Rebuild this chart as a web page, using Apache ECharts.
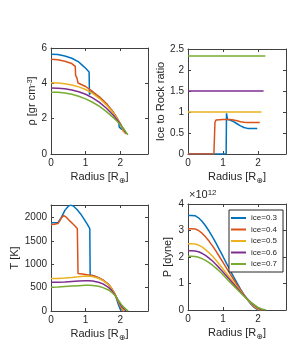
<!DOCTYPE html>
<html><head><meta charset="utf-8">
<script src="https://cdn.jsdelivr.net/npm/echarts@6/dist/echarts.min.js"></script>
<style>html,body{margin:0;padding:0;background:#fff}#c{width:299px;height:357px}</style>
</head><body><div id="c"></div><script>
const names = ['ice=0.3','ice=0.4','ice=0.5','ice=0.6','ice=0.7'];
const colors = ['#0072BD','#D95319','#EDB120','#7E2F8E','#77AC30'];

// Density [gr cm^-3] vs radius [R_earth]
const rho03 = [[0,5.65],[0.2,5.63],[0.4,5.55],[0.6,5.42],[0.8,5.21],[0.9,5.03],[1.0,4.85],[1.1,4.64],[1.11,3.35],[1.15,3.55],[1.2,3.50],[1.4,3.22],[1.6,2.84],[1.8,2.35],[1.9,2.05],[1.95,1.86],[1.97,1.52],[2.05,1.38]];
const rho04 = [[0,5.36],[0.2,5.33],[0.4,5.25],[0.6,5.12],[0.70,4.96],[0.71,4.45],[0.73,4.40],[0.74,4.50],[0.75,4.30],[0.78,4.02],[0.8,3.98],[1.0,3.82],[1.2,3.54],[1.4,3.22],[1.6,2.84],[1.8,2.36],[1.9,2.06],[2.0,1.72],[2.1,1.24]];
const rho05 = [[0,4.03],[0.2,4.02],[0.4,3.98],[0.6,3.91],[0.8,3.80],[1.0,3.65],[1.2,3.43],[1.4,3.14],[1.6,2.77],[1.8,2.32],[1.9,2.04],[2.0,1.72],[2.1,1.32],[2.14,1.15]];
const rho06 = [[0,3.73],[0.2,3.72],[0.4,3.69],[0.6,3.62],[0.8,3.52],[1.0,3.38],[1.2,3.18],[1.4,2.92],[1.6,2.59],[1.8,2.19],[1.9,1.95],[2.0,1.69],[2.1,1.40],[2.18,1.12]];
const rho07 = [[0,3.50],[0.2,3.49],[0.4,3.45],[0.6,3.38],[0.8,3.27],[1.0,3.12],[1.2,2.93],[1.4,2.69],[1.6,2.40],[1.8,2.06],[1.9,1.87],[2.0,1.66],[2.1,1.42],[2.22,1.08]];

// Ice to rock ratio
const irr03 = [[0,0],[1.09,0],[1.10,0.97],[1.13,0.82],[1.2,0.81],[1.3,0.77],[1.4,0.72],[1.5,0.67],[1.6,0.63],[1.7,0.61],[1.98,0.61]];
const irr04 = [[0,0],[0.74,0],[0.77,0.75],[0.80,0.81],[1.0,0.82],[1.2,0.82],[1.3,0.81],[1.4,0.79],[1.5,0.77],[1.6,0.755],[1.7,0.75],[2.05,0.75]];
const irr05 = [[0,1],[2.10,1]];
const irr06 = [[0,1.5],[2.16,1.5]];
const irr07 = [[0,2.333],[2.21,2.333]];

// Temperature [K]
const tmp03 = [[0,1885],[0.1,1885],[0.2,1890],[0.25,1900],[0.3,2000],[0.4,2150],[0.5,2240],[0.57,2262],[0.65,2240],[0.75,2170],[0.85,2080],[0.95,1970],[1.05,1850],[1.12,1760],[1.13,765],[1.2,760],[1.37,710],[1.5,660],[1.66,570],[1.75,480],[1.85,350],[1.95,130],[2.02,0]];
const tmp04 = [[0,1850],[0.1,1855],[0.2,1870],[0.25,1920],[0.3,1990],[0.37,2040],[0.45,2000],[0.55,1920],[0.65,1850],[0.76,1765],[0.78,800],[0.9,790],[1.0,780],[1.13,765],[1.2,760],[1.37,712],[1.5,662],[1.66,572],[1.75,485],[1.85,360],[1.95,180],[2.07,0]];
const tmp05 = [[0,693],[0.2,697],[0.4,705],[0.6,715],[0.8,730],[0.85,742],[1.0,748],[1.1,745],[1.2,735],[1.37,700],[1.5,650],[1.66,565],[1.75,480],[1.85,355],[1.95,200],[2.05,60],[2.11,0]];
const tmp06 = [[0,612],[0.2,615],[0.4,622],[0.6,632],[0.8,642],[1.0,648],[1.1,648],[1.2,640],[1.37,615],[1.5,580],[1.66,505],[1.75,440],[1.85,340],[1.95,210],[2.05,85],[2.17,0]];
const tmp07 = [[0,508],[0.2,512],[0.4,522],[0.6,532],[0.8,540],[1.0,548],[1.1,550],[1.2,546],[1.37,530],[1.5,500],[1.66,450],[1.75,400],[1.85,330],[1.95,225],[2.05,120],[2.15,45],[2.23,0]];

// Pressure [1e12 dyne]
const prs03 = [[0,3.57],[0.1,3.57],[0.2,3.56],[0.3,3.48],[0.4,3.35],[0.5,3.18],[0.6,2.98],[0.7,2.76],[0.8,2.52],[0.9,2.27],[1.0,2.02],[1.1,1.76],[1.2,1.51],[1.3,1.26],[1.4,1.02],[1.5,0.79],[1.6,0.58],[1.7,0.39],[1.8,0.22],[1.9,0.09],[2.0,0.01],[2.02,0]];
const prs04 = [[0,3.07],[0.1,3.07],[0.2,3.06],[0.3,3.00],[0.4,2.90],[0.5,2.76],[0.6,2.60],[0.7,2.42],[0.8,2.22],[0.9,2.01],[1.0,1.80],[1.1,1.58],[1.2,1.37],[1.3,1.16],[1.4,0.95],[1.5,0.76],[1.6,0.57],[1.7,0.40],[1.8,0.24],[1.9,0.11],[2.0,0.03],[2.08,0]];
const prs05 = [[0,2.50],[0.1,2.50],[0.2,2.49],[0.3,2.45],[0.4,2.38],[0.5,2.28],[0.6,2.16],[0.7,2.03],[0.8,1.88],[0.9,1.72],[1.0,1.55],[1.1,1.38],[1.2,1.21],[1.3,1.04],[1.4,0.87],[1.5,0.71],[1.6,0.55],[1.7,0.40],[1.8,0.26],[1.9,0.14],[2.0,0.05],[2.13,0]];
const prs06 = [[0,2.24],[0.1,2.24],[0.2,2.23],[0.3,2.20],[0.4,2.14],[0.5,2.06],[0.6,1.96],[0.7,1.85],[0.8,1.72],[0.9,1.58],[1.0,1.43],[1.1,1.28],[1.2,1.13],[1.3,0.98],[1.4,0.83],[1.5,0.68],[1.6,0.54],[1.7,0.41],[1.8,0.28],[1.9,0.17],[2.0,0.08],[2.1,0.02],[2.18,0]];
const prs07 = [[0,2.03],[0.1,2.03],[0.2,2.02],[0.3,1.99],[0.4,1.94],[0.5,1.87],[0.6,1.79],[0.7,1.69],[0.8,1.58],[0.9,1.46],[1.0,1.33],[1.1,1.19],[1.2,1.05],[1.3,0.92],[1.4,0.78],[1.5,0.65],[1.6,0.52],[1.7,0.40],[1.8,0.29],[1.9,0.19],[2.0,0.10],[2.1,0.04],[2.23,0]];

const xTicks = {min:0, max:2.8, interval:1};
const yRanges = [
  {min:0, max:6, interval:2},
  {min:0, max:2.5, interval:0.5},
  {min:0, max:2265, interval:500},
  {min:0, max:4, interval:1}
];
const yNames = ['ρ [gr cm{sup|-3}]', 'Ice to Rock ratio', 'T [K]', 'P [dyne]'];
const yNameGaps = [2, 19, 23, 15];
const panels = [
  [rho03, rho04, rho05, rho06, rho07],
  [irr03, irr04, irr05, irr06, irr07],
  [tmp03, tmp04, tmp05, tmp06, tmp07],
  [prs03, prs04, prs05, prs06, prs07]
];

const FONT = '"Liberation Sans", Arial, Helvetica, sans-serif';
const TXT = '#262626';
const AX = '#404040';
const grids = [
  {left:51, top:48, width:97, height:106},
  {left:188, top:49, width:98, height:105},
  {left:51, top:205, width:97, height:106},
  {left:188, top:204, width:98, height:106}
];

const richSS = {
  sup: {fontSize:7, verticalAlign:'top', fontFamily:FONT, color:TXT, lineHeight:9},
  sub: {fontSize:8, fontFamily:'DejaVu Sans', color:TXT, padding:[8,0,0,0], lineHeight:12}
};
const plain = v => String(v);

function mkX(gi, main) {
  return Object.assign({
    type:'value', gridIndex:gi, position: main ? 'bottom' : 'top',
    axisLine:{show:true, onZero:false, lineStyle:{color:AX, width:1}},
    axisTick:{show:true, inside:true, length:3, lineStyle:{color:AX}},
    axisLabel:{show:main, showMaxLabel:false, margin:4, fontSize:10, color:TXT, fontFamily:FONT, formatter:plain},
    splitLine:{show:false},
    name: main ? 'Radius [R{sub|⊕}]' : '', nameLocation:'middle', nameGap:16,
    nameTextStyle:{fontSize:11, color:TXT, fontFamily:FONT, rich:richSS}
  }, xTicks);
}
function mkY(gi, main) {
  return Object.assign({
    type:'value', gridIndex:gi, position: main ? 'left' : 'right',
    axisLine:{show:true, onZero:false, lineStyle:{color:AX, width:1}},
    axisTick:{show:true, inside:true, length:3, lineStyle:{color:AX}},
    axisLabel:{show:main, showMaxLabel: gi===2 ? false : true, margin:4, fontSize:10, color:TXT, fontFamily:FONT, formatter:plain},
    splitLine:{show:false},
    name: main ? yNames[gi] : '', nameLocation:'middle', nameGap: yNameGaps[gi],
    nameTextStyle:{fontSize:11, color:TXT, fontFamily:FONT, rich:richSS}
  }, yRanges[gi]);
}

const xAxis = [], yAxis = [];
for (let g = 0; g < 4; g++) { xAxis.push(mkX(g, true)); yAxis.push(mkY(g, true)); }
for (let g = 0; g < 4; g++) { xAxis.push(mkX(g, false)); yAxis.push(mkY(g, false)); }

const series = [];
panels.forEach((sets, p) => {
  sets.forEach((d, i) => {
    series.push({
      type:'line', name:names[i], xAxisIndex:p, yAxisIndex:p, data:d,
      showSymbol:false, symbol:'none', smooth:false,
      lineStyle:{width:1.5, color:colors[i]}, itemStyle:{color:colors[i]},
      emphasis:{disabled:true}
    });
  });
});

const chart = echarts.init(document.getElementById('c'), null, {renderer:'canvas'});
chart.setOption({
  animation:false,
  color:colors,
  grid:grids,
  xAxis:xAxis,
  yAxis:yAxis,
  series:series,
  legend:{
    show:true, orient:'vertical', left:229, top:210, data:names,
    icon:'rect', itemWidth:15, itemHeight:2, itemGap:1.5,
    padding:[3,6,3,2], selectedMode:false,
    textStyle:{fontSize:8, color:TXT, fontFamily:FONT, lineHeight:10},
    borderColor:TXT, borderWidth:1, backgroundColor:'#fff'
  },
  graphic:[{
    type:'text', left:189, top:189,
    style:{text:'×10{sup|12}', font:'11px "Liberation Sans", Arial, sans-serif', fill:TXT,
      rich:{base:{fontSize:11}, sup:{fontSize:8, verticalAlign:'top', fontFamily:FONT, fill:TXT}}}
  }]
});
</script></body></html>
